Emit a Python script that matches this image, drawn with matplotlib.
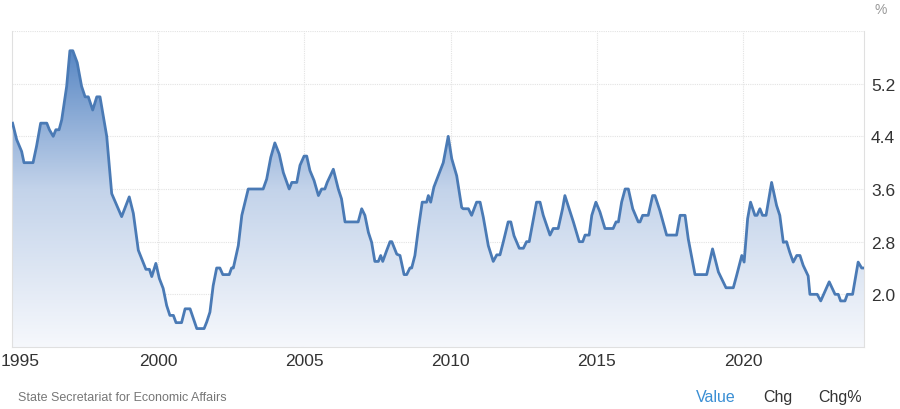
import numpy as np
import matplotlib
matplotlib.use("Agg")
import matplotlib.pyplot as plt
import matplotlib.transforms as mtransforms
from matplotlib.colors import LinearSegmentedColormap

plt.rcParams['font.family'] = ['Liberation Sans', 'DejaVu Sans']

# values (decimal year, percent)
dates = [1995.02, 1995.16, 1995.33, 1995.41, 1995.72, 1995.84, 1995.98, 1996.19, 1996.28, 1996.41,
         1996.50, 1996.61, 1996.70, 1996.87, 1996.98, 1997.08, 1997.23, 1997.38, 1997.50, 1997.61,
         1997.76, 1997.90, 1998.01, 1998.24, 1998.41, 1998.75, 1999.01, 1999.15, 1999.32, 1999.58,
         1999.70, 1999.78, 1999.92, 2000.04, 2000.17, 2000.29, 2000.40, 2000.52, 2000.61, 2000.80,
         2000.92, 2001.09, 2001.32, 2001.57, 2001.66, 2001.77, 2001.88, 2002.00, 2002.11, 2002.21,
         2002.43, 2002.51, 2002.57, 2002.74, 2002.86, 2003.08, 2003.59, 2003.71, 2003.85, 2003.99,
         2004.14, 2004.28, 2004.48, 2004.57, 2004.74, 2004.85, 2004.99, 2005.08, 2005.19, 2005.33,
         2005.48, 2005.59, 2005.70, 2005.78, 2005.99, 2006.16, 2006.27, 2006.39, 2006.84, 2006.96,
         2007.07, 2007.19, 2007.30, 2007.41, 2007.53, 2007.61, 2007.68, 2007.81, 2007.93, 2007.99,
         2008.16, 2008.27, 2008.41, 2008.50, 2008.61, 2008.67, 2008.78, 2008.90, 2009.03, 2009.18,
         2009.24, 2009.32, 2009.43, 2009.75, 2009.92, 2010.04, 2010.21, 2010.38, 2010.43, 2010.61,
         2010.72, 2010.89, 2011.01, 2011.12, 2011.29, 2011.46, 2011.58, 2011.69, 2011.80, 2011.97,
         2012.06, 2012.17, 2012.35, 2012.49, 2012.60, 2012.69, 2012.94, 2013.06, 2013.17, 2013.40,
         2013.51, 2013.68, 2013.83, 2013.91, 2014.20, 2014.40, 2014.52, 2014.60, 2014.74, 2014.83,
         2014.97, 2015.11, 2015.28, 2015.56, 2015.66, 2015.74, 2015.85, 2015.97, 2016.08, 2016.23,
         2016.42, 2016.48, 2016.57, 2016.76, 2016.91, 2016.99, 2017.16, 2017.39, 2017.73, 2017.85,
         2018.02, 2018.13, 2018.36, 2018.76, 2018.96, 2019.16, 2019.42, 2019.67, 2019.78, 2019.96,
         2020.04, 2020.16, 2020.26, 2020.41, 2020.48, 2020.58, 2020.67, 2020.79, 2020.98, 2021.15,
         2021.26, 2021.38, 2021.49, 2021.60, 2021.72, 2021.84, 2021.95, 2022.06, 2022.23, 2022.29,
         2022.54, 2022.66, 2022.95, 2023.15, 2023.26, 2023.34, 2023.49, 2023.57, 2023.75, 2023.94,
         2024.06, 2024.14]
values = [4.6, 4.35, 4.17, 4.0, 4.0, 4.25, 4.6, 4.6, 4.5, 4.4,
          4.5, 4.5, 4.65, 5.16, 5.7, 5.7, 5.52, 5.16, 5.0, 5.0,
          4.8, 5.0, 5.0, 4.4, 3.53, 3.18, 3.48, 3.23, 2.67, 2.38,
          2.38, 2.27, 2.47, 2.24, 2.09, 1.83, 1.68, 1.68, 1.57, 1.57,
          1.78, 1.78, 1.48, 1.48, 1.58, 1.73, 2.13, 2.4, 2.4, 2.3,
          2.3, 2.4, 2.4, 2.74, 3.2, 3.6, 3.6, 3.75, 4.08, 4.3,
          4.13, 3.85, 3.6, 3.7, 3.7, 3.96, 4.1, 4.1, 3.88, 3.73,
          3.5, 3.6, 3.6, 3.7, 3.9, 3.6, 3.45, 3.1, 3.1, 3.3,
          3.2, 2.94, 2.79, 2.5, 2.5, 2.59, 2.5, 2.66, 2.8, 2.8,
          2.61, 2.59, 2.3, 2.3, 2.4, 2.4, 2.59, 3.0, 3.4, 3.4,
          3.5, 3.4, 3.63, 4.0, 4.4, 4.06, 3.8, 3.32, 3.3, 3.3,
          3.2, 3.4, 3.4, 3.17, 2.74, 2.5, 2.6, 2.6, 2.79, 3.1,
          3.1, 2.89, 2.7, 2.7, 2.8, 2.8, 3.4, 3.4, 3.2, 2.9,
          3.0, 3.0, 3.3, 3.5, 3.1, 2.8, 2.8, 2.9, 2.9, 3.2,
          3.4, 3.25, 3.0, 3.0, 3.1, 3.1, 3.4, 3.6, 3.6, 3.3,
          3.1, 3.1, 3.2, 3.2, 3.5, 3.5, 3.27, 2.9, 2.9, 3.2,
          3.2, 2.84, 2.3, 2.3, 2.69, 2.34, 2.1, 2.1, 2.28, 2.59,
          2.49, 3.15, 3.4, 3.2, 3.2, 3.3, 3.2, 3.2, 3.7, 3.35,
          3.2, 2.79, 2.8, 2.64, 2.49, 2.59, 2.59, 2.44, 2.28, 2.0,
          2.0, 1.9, 2.19, 2.0, 2.0, 1.9, 1.9, 2.0, 2.0, 2.49,
          2.4, 2.4]

year_ticks = [1995, 2000, 2005, 2010, 2015, 2020]
value_ticks = [2.0, 2.8, 3.6, 4.4, 5.2]

x_min, x_max = 1995.0, 2024.14
y_min, y_max = 1.2, 6.0

line_color = '#4a7ab5'
grid_color = '#e3e3e3'

fig = plt.figure(figsize=(9, 4.1), dpi=100)
ax = fig.add_axes([12 / 900, 1 - 348 / 410, 852 / 900, 316 / 410])

# gradient area under the line
cmap = LinearSegmentedColormap.from_list('area', ['#f6f8fc', '#c3d3ea', '#4a7dbf'])
grad = np.linspace(0, 1, 256).reshape(-1, 1)
img = ax.imshow(grad, cmap=cmap, aspect='auto', origin='lower',
                extent=[x_min, x_max, y_min, y_max], zorder=1)
poly = ax.fill_between(dates, values, y_min, color='none', lw=0)
clip = poly.get_paths()[0]
img.set_clip_path(clip, transform=ax.transData)

ax.plot(dates, values, color=line_color, lw=2.0, solid_joinstyle='round', zorder=3)

ax.set_xlim(x_min, x_max)
ax.set_ylim(y_min, y_max)

for yv in value_ticks + [y_max]:
    ax.axhline(yv, color=grid_color, lw=0.8, ls=(0, (1, 1)), zorder=0)
for xv in year_ticks[1:]:
    ax.axvline(xv, color=grid_color, lw=0.8, ls=(0, (1, 1)), zorder=0)

ax.set_xticks(year_ticks)
ax.set_xticklabels([str(y) for y in year_ticks])
ax.set_yticks(value_ticks)
ax.set_yticklabels(['%.1f' % v for v in value_ticks])
ax.yaxis.tick_right()
ax.tick_params(axis='both', length=0, labelsize=12.5, labelcolor='#333333')
ax.tick_params(axis='y', pad=5)
ax.tick_params(axis='x', pad=4)

# keep the first year label inside the canvas
first = ax.get_xticklabels()[0]
first.set_transform(first.get_transform() + mtransforms.ScaledTranslation(8 / 100, 0, fig.dpi_scale_trans))

ax.spines['top'].set_visible(False)
for side in ['left', 'right', 'bottom']:
    ax.spines[side].set_color('#e0e0e0')
    ax.spines[side].set_linewidth(0.8)

fig.text(881 / 900, 1 - 10 / 410, '%', ha='center', va='center', fontsize=10, color='#999999')
fig.text(18 / 900, 1 - 398 / 410, 'State Secretariat for Economic Affairs', ha='left', va='center',
         fontsize=9, color='#777777')
fig.text(716 / 900, 1 - 398 / 410, 'Value', ha='center', va='center', fontsize=11.5, color='#3a8fd4')
fig.text(778 / 900, 1 - 398 / 410, 'Chg', ha='center', va='center', fontsize=11.5, color='#333333')
fig.text(840 / 900, 1 - 398 / 410, 'Chg%', ha='center', va='center', fontsize=11.5, color='#333333')

fig.savefig('out.png', dpi=100)
